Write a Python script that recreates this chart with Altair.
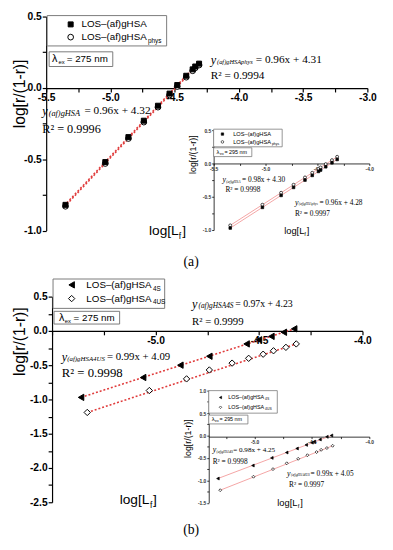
import altair as alt
import pandas as pd

# ---------------- data ----------------
# (a) main plot, lambda_ex = 275 nm
a_x = [-5.35, -5.04, -4.86, -4.74, -4.63, -4.54, -4.48, -4.41, -4.36, -4.34, -4.31]
a_gHSA = [-0.82, -0.52, -0.345, -0.23, -0.125, -0.04, 0.02, 0.085, 0.13, 0.15, 0.17]
a_phys = [-0.83, -0.53, -0.355, -0.24, -0.135, -0.05, 0.01, 0.075, 0.12, 0.14, 0.16]
a_fit_x = [-5.36, -4.30]
a_fit_gHSA = [-0.826, 0.192]
a_fit_phys = [-0.836, 0.182]

# (a) inset, lambda_ex = 295 nm
ai_x = [-5.34, -5.03, -4.85, -4.73, -4.62, -4.55, -4.49, -4.47, -4.42, -4.36, -4.31]
ai_gHSA = [-0.97, -0.66, -0.48, -0.36, -0.25, -0.18, -0.12, -0.10, -0.05, 0.01, 0.06]
ai_phys = [-0.93, -0.62, -0.44, -0.32, -0.21, -0.14, -0.08, -0.06, -0.01, 0.05, 0.10]
ai_fit_x = [-5.34, -4.31]
ai_fit_gHSA = [-0.97, 0.06]
ai_fit_phys = [-0.93, 0.10]

# (b) main plot, lambda_ex = 275 nm
b_x4S = [-5.36, -5.06, -4.88, -4.74, -4.56, -4.50, -4.44, -4.38, -4.33]
b_4S = [-0.97, -0.68, -0.50, -0.37, -0.19, -0.13, -0.08, -0.02, 0.03]
b_x4US = [-5.33, -5.03, -4.85, -4.74, -4.63, -4.55, -4.48, -4.43, -4.37, -4.32]
b_4US = [-1.19, -0.87, -0.70, -0.57, -0.47, -0.40, -0.34, -0.29, -0.24, -0.19]
b_fit_x4S = [-5.36, -4.33]
b_fit_4S = [-0.97, 0.03]
b_fit_x4US = [-5.33, -4.32]
b_fit_4US = [-1.19, -0.19]

# (b) inset, lambda_ex = 295 nm
bi_x4S = [-5.32, -5.015, -4.85, -4.72, -4.63, -4.55, -4.50, -4.48, -4.43, -4.37, -4.33]
bi_4S = [-0.96, -0.67, -0.50, -0.38, -0.29, -0.21, -0.16, -0.14, -0.09, -0.03, 0.0]
bi_x4US = [-5.30, -5.01, -4.84, -4.72, -4.62, -4.54, -4.46, -4.42, -4.37, -4.32]
bi_4US = [-1.22, -0.92, -0.75, -0.62, -0.52, -0.44, -0.37, -0.32, -0.28, -0.23]
bi_fit_x4S = [-5.32, -4.33]
bi_fit_4S = [-0.96, 0.0]
bi_fit_x4US = [-5.30, -4.32]
bi_fit_4US = [-1.22, -0.23]

# tick values / labelled ticks
a_xticks = [-5.5, -5.25, -5.0, -4.75, -4.5, -4.25, -4.0, -3.75, -3.5, -3.25, -3.0]
a_xlabels = [-5.5, -5.0, -4.5, -4.0, -3.5, -3.0]
a_yticks = [-1.0, -0.75, -0.5, -0.25, 0.0, 0.25, 0.5]
a_ylabels = [-1.0, -0.5, 0.0, 0.5]
ai_xticks = [-5.5, -5.25, -5.0, -4.75, -4.5, -4.25, -4.0]
ai_xlabels = [-5.5, -5.0, -4.5, -4.0]
b_xticks = [-5.5, -5.25, -5.0, -4.75, -4.5, -4.25, -4.0]
b_xlabels = [-5.0, -4.5, -4.0]
b_yticks = [-2.5, -2.25, -2.0, -1.75, -1.5, -1.25, -1.0, -0.75, -0.5, -0.25, 0.0, 0.25, 0.5]
b_ylabels = [-2.5, -2.0, -1.5, -1.0, -0.5, 0.0, 0.5]
bi_xticks = [-5.25, -5.0, -4.75, -4.5, -4.25, -4.0]
bi_xlabels = [-5.0, -4.5, -4.0]
bi_yticks = [-1.5, -1.25, -1.0, -0.75, -0.5, -0.25, 0.0, 0.25, 0.5, 0.75, 1.0]
bi_ylabels = [-1.5, -1.0, -0.5, 0.0, 0.5, 1.0]

# ---------------- layout helpers ----------------
OFF = 8
W, H = 385, 542
SANS = "Liberation Sans"
SERIF = "Liberation Serif"
one = pd.DataFrame({"k": [0]})


def lab_expr(labels):
    arr = "[" + ",".join(repr(v) for v in labels) + "]"
    return ("indexof(" + arr + ", datum.value) >= 0 ? "
            "replace(format(datum.value, '.1f'), '\u2212', '-') : ''")


def axis(orient, offset, values, labels, lsize, tsize, dwidth, lweight, lcolor):
    return alt.Axis(orient=orient, offset=offset, values=values, labelExpr=lab_expr(labels),
                    grid=False, domainColor="black", domainWidth=dwidth, tickColor="black",
                    tickWidth=dwidth, tickSize=tsize, labelFont=SANS, labelFontSize=lsize,
                    labelFontWeight=lweight, labelColor=lcolor, labelPadding=1,
                    labelFlush=False, labelOverlap=False, title=None)


def panel(series, fits, xdom, xr, ydom, yr, xaxis_y, yaxis_x, xt, xl, yt, yl,
          lsize, tsize, dwidth, lweight, lcolor, line_style):
    xenc = alt.X("x:Q", scale=alt.Scale(domain=xdom, range=[xr[0] - OFF, xr[1] - OFF], nice=False, zero=False),
                 axis=axis("bottom", (xaxis_y - OFF) - H, xt, xl, lsize, tsize, dwidth, lweight, lcolor))
    yenc = alt.Y("y:Q", scale=alt.Scale(domain=ydom, range=[yr[0] - OFF, yr[1] - OFF], nice=False, zero=False),
                 axis=axis("left", -(yaxis_x - OFF), yt, yl, lsize, tsize, dwidth, lweight, lcolor))
    layers = []
    for fx, fy in fits:
        df = pd.DataFrame({"x": fx, "y": fy})
        layers.append(alt.Chart(df).mark_line(**line_style).encode(x=xenc, y=yenc))
    for sx, sy, shape, size, filled, sw in series:
        df = pd.DataFrame({"x": sx, "y": sy})
        layers.append(alt.Chart(df).mark_point(shape=shape, size=size, fill="black" if filled else "white",
                                               stroke="black", strokeWidth=sw, fillOpacity=1, opacity=1)
                      .encode(x=xenc, y=yenc))
    return alt.layer(*layers)


def T(s, x, y, size, font=SANS, style="normal", align="left", angle=0, weight="normal"):
    return alt.Chart(one).mark_text(text=s, x=x - OFF, y=y - OFF, fontSize=size, font=font,
                                    fontStyle=style, fontWeight=weight, align=align,
                                    baseline="middle", angle=angle, color="black").encode(opacity=alt.value(1))


def box(x1, y1, x2, y2, sw=1):
    return alt.Chart(one).mark_rect(x=x1 - OFF, y=y1 - OFF, x2=x2 - OFF, y2=y2 - OFF, fill="white",
                                    stroke="#7a7a7a", strokeWidth=sw).encode(opacity=alt.value(1))


def sym(x, y, shape, size, filled, sw=1):
    return alt.Chart(one).mark_point(x=x - OFF, y=y - OFF, shape=shape, size=size,
                                     fill="black" if filled else "white", stroke="black",
                                     strokeWidth=sw, fillOpacity=1, opacity=1).encode(opacity=alt.value(1))


main_line = dict(color="#e03c3c", strokeDash=[2, 2], strokeWidth=1.6)
inset_line = dict(color="#f29a9a", strokeWidth=0.9)

gA = panel([(a_x, a_phys, "circle", 34, False, 1), (a_x, a_gHSA, "square", 26, True, 1)],
           [(a_fit_x, a_fit_phys), (a_fit_x, a_fit_gHSA)],
           [-5.5, -3.0], [47, 375], [-1.0, 0.5], [229.5, 11], 84, 47,
           a_xticks, a_xlabels, a_yticks, a_ylabels, 10.5, 4, 1.2, "bold", "black", main_line)
gAi = panel([(ai_x, ai_phys, "circle", 9, False, 0.7), (ai_x, ai_gHSA, "square", 7, True, 0.7)],
            [(ai_fit_x, ai_fit_phys), (ai_fit_x, ai_fit_gHSA)],
            [-5.5, -4.0], [218, 377], [-1.0, 0.5], [229, 127], 161, 218,
            ai_xticks, ai_xlabels, a_yticks, a_ylabels, 5, 2, 0.8, "bold", "#333", inset_line)
gB = panel([(b_x4S, b_4S, "triangle-left", 42, True, 1), (b_x4US, b_4US, "diamond", 42, False, 1)],
           [(b_fit_x4S, b_fit_4S), (b_fit_x4US, b_fit_4US)],
           [-5.5, -4.0], [53, 370], [-2.5, 0.5], [507, 297], 332, 53,
           b_xticks, b_xlabels, b_yticks, b_ylabels, 10.5, 4, 1.2, "bold", "black", main_line)
gBi = panel([(bi_x4S, bi_4S, "triangle-left", 9, True, 0.7), (bi_x4US, bi_4US, "diamond", 9, False, 0.7)],
            [(bi_fit_x4S, bi_fit_4S), (bi_fit_x4US, bi_fit_4US)],
            [-5.4, -4.0], [213, 377], [-1.5, 1.0], [507.5, 393], 440, 213,
            bi_xticks, bi_xlabels, bi_yticks, bi_ylabels, 5, 2, 0.8, "bold", "#333", inset_line)

deco = [
    # ---- panel (a) main ----
    box(48, 10, 170, 41), box(50, 47, 115, 62),
    sym(72, 19, "square", 26, True), sym(72, 32, "circle", 34, False),
    T("LOS\u2013(af)gHSA", 83, 19, 10), T("LOS\u2013(af)gHSA", 83, 32, 10), T("phys", 151, 36, 6.5),
    T("\u03bb", 53, 54, 11), T("ex", 59.5, 57.5, 6), T("= 275 nm", 68, 54, 10),
    T("y", 43, 108, 12.5, SERIF, "italic"), T("(af)gHSA", 49.5, 110, 8.5, SERIF, "italic"),
    T("= 0.96x + 4.32", 86, 108, 11.5, SERIF), T("R\u00b2 = 0.9996", 43, 126, 12.5, SERIF),
    T("y", 215, 55, 12.5, SERIF, "italic"), T("(af)gHSAphys", 221.5, 57, 6.5, SERIF, "italic"),
    T("= 0.96x + 4.31", 261, 55, 11.5, SERIF), T("R\u00b2 = 0.9994", 215, 72, 11.5, SERIF),
    T("log[r/(1-r)]", 20, 90, 16, angle=270, align="center"),
    T("log[L", 152, 230, 14), T("f", 182.5, 235, 8.5), T("]", 186, 230, 14),
    T("(a)", 195, 262, 14, SERIF, align="center"),
    # ---- panel (a) inset ----
    box(218, 126, 288, 144, 0.8), box(218, 145, 257, 154, 0.8),
    sym(227, 131, "square", 6, True, 0.6), sym(227, 139, "circle", 7, False, 0.6),
    T("LOS\u2013(af)gHSA", 238, 131, 5.8), T("LOS\u2013(af)gHSA", 238, 139, 5.8), T("phys", 277.5, 141.5, 3.5),
    T("\u03bb", 221, 149.5, 6), T("ex", 224.5, 151.5, 3.5), T("= 295 nm", 229, 149.5, 5.5),
    T("y", 227, 178, 8, SERIF, "italic"), T("(af)gHSA", 231, 179.5, 3.8, SERIF, "italic"),
    T("= 0.98x + 4.30", 247, 178, 7.5, SERIF), T("R\u00b2 = 0.9998", 230, 188, 7.5, SERIF),
    T("y", 301, 201, 8, SERIF, "italic"), T("(af)gHSAphys", 305, 202.5, 3.5, SERIF, "italic"),
    T("= 0.96x + 4.28", 326, 201, 7.5, SERIF), T("R\u00b2 = 0.9997", 301, 213, 7.5, SERIF),
    T("log[r/(1-r)]", 197, 152, 9, angle=270, align="center"),
    T("log[L", 290, 230, 9.5), T("f", 310.6, 233, 6), T("]", 313, 230, 9.5),
    # ---- panel (b) main ----
    box(54, 279, 168, 309), box(55, 312, 122, 325),
    sym(73, 285, "triangle-left", 42, True), sym(73, 299, "diamond", 42, False),
    T("LOS\u2013(af)gHSA", 88, 285, 10), T("4S", 156, 289, 6.5),
    T("LOS\u2013(af)gHSA", 88, 299, 10), T("4US", 156, 303, 6.5),
    T("\u03bb", 60, 318.5, 11), T("ex", 66, 322, 6), T("= 275 nm", 75, 318.5, 10),
    T("y", 196, 305, 12.5, SERIF, "italic"), T("(af)gHSA4S", 202.5, 307, 7.5, SERIF, "italic"),
    T("= 0.97x + 4.23", 240, 305, 10, SERIF), T("R\u00b2 = 0.9999", 196, 323, 11, SERIF),
    T("y", 63, 359, 12.5, SERIF, "italic"), T("(af)gHSA4US", 68.5, 361, 7, SERIF, "italic"),
    T("= 0.99x + 4.09", 109, 359, 11, SERIF), T("R\u00b2 = 0.9998", 63, 375, 13, SERIF),
    T("log[r/(1-r)]", 20, 343, 16, angle=270, align="center"),
    T("log[L", 122, 505, 14), T("f", 153, 510, 8.5), T("]", 156, 505, 14),
    T("(b)", 195, 535, 14, SERIF, align="center"),
    # ---- panel (b) inset ----
    box(213, 393, 283, 416, 0.8), box(213, 418, 253, 427, 0.8),
    sym(225, 400, "triangle-left", 7, True, 0.6), sym(225, 410, "diamond", 7, False, 0.6),
    T("LOS\u2013(af)gHSA", 233, 400, 5.5), T("4S", 270.5, 402, 3.5),
    T("LOS\u2013(af)gHSA", 233, 410, 5.5), T("4US", 270.5, 412, 3.5),
    T("\u03bb", 216, 422.5, 6), T("ex", 219.5, 424.5, 3.5), T("= 295 nm", 224, 422.5, 5.5),
    T("y", 217, 454, 8, SERIF, "italic"), T("(af)gHSA4S", 221, 455.5, 3.5, SERIF, "italic"),
    T("= 0.98x + 4.25", 238, 454, 7.3, SERIF), T("R\u00b2 = 0.9998", 217, 466, 7.5, SERIF),
    T("y", 293, 478, 8, SERIF, "italic"), T("(af)gHSA4US", 297, 479.5, 3.5, SERIF, "italic"),
    T("= 0.99x + 4.05", 317, 478, 7.5, SERIF), T("R\u00b2 = 0.9997", 295, 489, 7.5, SERIF),
    T("log[r/(1-r)]", 192, 442, 9, angle=270, align="center"),
    T("log[L", 283, 508, 9.5), T("f", 304, 511, 6), T("]", 306.5, 508, 9.5),
]

chart = (
    alt.layer(gA, gAi, gB, gBi, *deco)
    .resolve_scale(x="independent", y="independent")
    .properties(width=W, height=H, padding=0, autosize=alt.AutoSizeParams(type="none"),
                background="white")
    .configure_view(stroke=None)
)

chart.save("out.html", embed_options={"renderer": "svg", "actions": False})
